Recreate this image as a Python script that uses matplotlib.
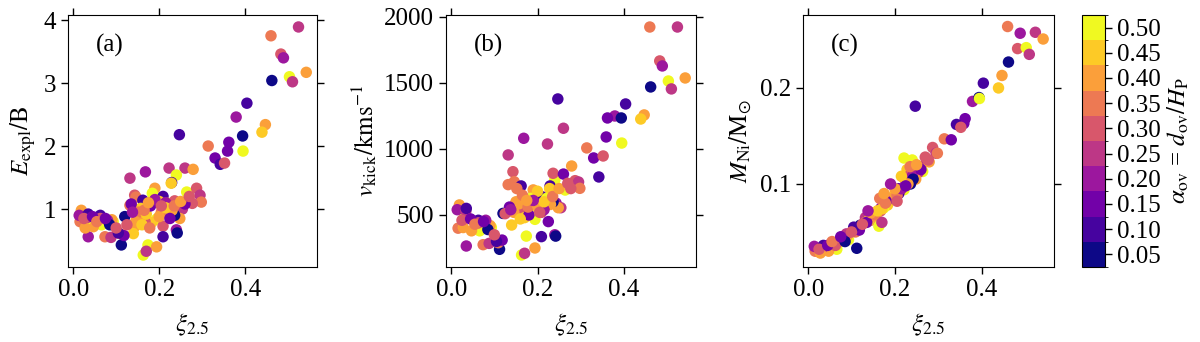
import numpy as np
import matplotlib
matplotlib.use("Agg")
import matplotlib.pyplot as plt
from matplotlib.colors import ListedColormap, BoundaryNorm

plt.rcParams['font.family'] = ['Liberation Serif', 'DejaVu Serif']
plt.rcParams['mathtext.fontset'] = 'stix'
plt.rcParams['font.size'] = 18

# compactness, overshoot and explosion outcomes
xi = [0.524, 0.460, 0.483, 0.489, 0.542, 0.503, 0.510, 0.462, 0.404, 0.379,
      0.447, 0.439, 0.394, 0.395, 0.247, 0.314, 0.362, 0.359, 0.330, 0.342,
      0.352, 0.168, 0.132, 0.223, 0.260, 0.279, 0.240, 0.229, 0.228, 0.190,
      0.184, 0.264, 0.287, 0.295, 0.298, 0.277, 0.143, 0.146, 0.132, 0.162,
      0.157, 0.209, 0.200, 0.221, 0.221, 0.236, 0.243, 0.254, 0.248, 0.236,
      0.194, 0.209, 0.240, 0.209, 0.242, 0.183, 0.167, 0.143, 0.140, 0.157,
      0.150, 0.174, 0.194, 0.163, 0.170, 0.112, 0.109, 0.120, 0.093, 0.090,
      0.074, 0.088, 0.035, 0.066, 0.047, 0.031, 0.019, 0.016, 0.014, 0.063,
      0.080, 0.034, 0.063, 0.035, 0.085, 0.028, 0.152, 0.170, 0.205, 0.230,
      0.215, 0.180, 0.135, 0.260, 0.118, 0.105, 0.145, 0.160, 0.178, 0.200,
      0.215, 0.235, 0.250, 0.270, 0.125, 0.138, 0.190, 0.025, 0.045, 0.055,
      0.075, 0.100, 0.165, 0.205, 0.175, 0.225]
alpha_ov = [0.25, 0.35, 0.30, 0.20, 0.40, 0.50, 0.25, 0.05, 0.10, 0.20,
            0.40, 0.45, 0.05, 0.50, 0.10, 0.35, 0.15, 0.15, 0.15, 0.10,
            0.30, 0.20, 0.25, 0.25, 0.25, 0.40, 0.50, 0.10, 0.45, 0.40,
            0.50, 0.50, 0.30, 0.25, 0.35, 0.30, 0.30, 0.35, 0.35, 0.10,
            0.45, 0.10, 0.45, 0.50, 0.50, 0.30, 0.20, 0.25, 0.40, 0.05,
            0.50, 0.30, 0.20, 0.10, 0.05, 0.45, 0.30, 0.40, 0.45, 0.40,
            0.40, 0.50, 0.40, 0.50, 0.25, 0.05, 0.35, 0.05, 0.50, 0.40,
            0.35, 0.25, 0.20, 0.50, 0.40, 0.50, 0.40, 0.35, 0.20, 0.10,
            0.20, 0.25, 0.30, 0.10, 0.05, 0.40, 0.35, 0.45, 0.35, 0.40,
            0.20, 0.15, 0.15, 0.15, 0.15, 0.10, 0.40, 0.45, 0.35, 0.40,
            0.45, 0.35, 0.40, 0.30, 0.30, 0.20, 0.20, 0.30, 0.15, 0.35,
            0.15, 0.30, 0.35, 0.30, 0.40, 0.15]
e_expl = [3.89, 3.75, 3.46, 3.40, 3.17, 3.10, 3.02, 3.04, 2.68, 2.46,
          2.34, 2.22, 2.16, 1.92, 2.18, 2.00, 2.06, 1.92, 1.81, 1.71,
          1.73, 1.59, 1.49, 1.65, 1.65, 1.63, 1.54, 1.42, 1.41, 1.33,
          1.25, 1.27, 1.33, 1.22, 1.11, 1.09, 1.22, 1.19, 1.06, 1.14,
          1.01, 1.20, 1.12, 1.09, 0.96, 1.13, 1.05, 1.00, 0.85, 0.90,
          0.84, 0.73, 0.67, 0.56, 0.62, 0.79, 0.80, 0.72, 0.61, 0.86,
          0.88, 0.43, 0.40, 0.27, 0.33, 0.43, 0.61, 0.88, 0.80, 0.83,
          0.56, 0.55, 0.56, 0.75, 0.72, 0.84, 0.98, 0.80, 0.90, 0.90,
          0.82, 0.87, 0.85, 0.92, 0.75, 0.70, 0.95, 0.92, 0.95, 0.98,
          1.10, 1.05, 1.08, 1.08, 0.58, 0.62, 0.80, 0.75, 0.70, 0.88,
          1.02, 1.05, 1.12, 1.20, 0.75, 0.95, 1.15, 0.85, 0.88, 0.80,
          0.85, 0.70, 0.98, 1.05, 1.10, 0.85]
v_kick = [1924, 1924, 1667, 1629, 1538, 1515, 1455, 1470, 1341, 1250,
          1258, 1227, 1235, 1045, 1379, 1008, 1235, 1091, 932, 788,
          947, 1081, 955, 1038, 1157, 871, 765, 720, 700, 690,
          626, 689, 760, 750, 702, 700, 828, 752, 730, 720,
          600, 640, 680, 626, 620, 816, 590, 555, 555, 600,
          467, 520, 350, 336, 340, 560, 540, 540, 424, 585,
          600, 340, 250, 197, 210, 240, 290, 512, 407, 420,
          275, 285, 265, 380, 380, 500, 576, 400, 540, 460,
          460, 530, 440, 550, 390, 405, 700, 480, 540, 580,
          540, 500, 560, 810, 310, 300, 520, 470, 560, 570,
          600, 640, 700, 740, 510, 540, 610, 460, 470, 430,
          450, 350, 650, 520, 610, 450]
m_ni = [0.258, 0.264, 0.241, 0.257, 0.251, 0.242, 0.235, 0.227, 0.205, 0.186,
        0.213, 0.200, 0.190, 0.189, 0.181, 0.147, 0.168, 0.163, 0.146, 0.162,
        0.159, 0.075, 0.065, 0.105, 0.118, 0.123, 0.125, 0.100, 0.115, 0.085,
        0.080, 0.113, 0.138, 0.132, 0.132, 0.125, 0.062, 0.068, 0.060, 0.072,
        0.070, 0.095, 0.090, 0.094, 0.127, 0.110, 0.108, 0.112, 0.105, 0.100,
        0.085, 0.092, 0.108, 0.090, 0.105, 0.078, 0.072, 0.065, 0.062, 0.068,
        0.066, 0.075, 0.085, 0.056, 0.060, 0.033, 0.050, 0.057, 0.042, 0.046,
        0.040, 0.048, 0.035, 0.032, 0.030, 0.033, 0.030, 0.030, 0.035, 0.038,
        0.042, 0.034, 0.036, 0.036, 0.040, 0.028, 0.068, 0.074, 0.088, 0.100,
        0.095, 0.082, 0.060, 0.115, 0.052, 0.055, 0.070, 0.072, 0.080, 0.095,
        0.108, 0.118, 0.120, 0.128, 0.058, 0.072, 0.100, 0.032, 0.036, 0.040,
        0.045, 0.050, 0.085, 0.082, 0.090, 0.098]

cbar_ticks = [0.05, 0.10, 0.15, 0.20, 0.25, 0.30, 0.35, 0.40, 0.45, 0.50]

cmap = ListedColormap(plt.get_cmap('plasma')(np.linspace(0, 1, 10)))
norm = BoundaryNorm(np.linspace(0.025, 0.525, 11), cmap.N)

fig = plt.figure(figsize=(12, 3.42), dpi=100)
W, H = 1200, 342
def px_axes(l, r, t, b):
    return fig.add_axes([l / W, (H - b) / H, (r - l) / W, (b - t) / H])

ax1 = px_axes(68, 317, 15, 267)
ax2 = px_axes(446, 696, 15, 267)
ax3 = px_axes(803, 1054, 15, 267)
cax = px_axes(1082, 1105, 15, 267)

panels = [
    (ax1, e_expl, r'$E_{\rm expl}/{\rm B}$', (0.08, 4.08), [1, 2, 3, 4], '(a)'),
    (ax2, v_kick, r'$v_{\rm kick}/{\rm km s^{-1}}$', (106, 2015), [500, 1000, 1500, 2000], '(b)'),
    (ax3, m_ni, r'$M_{\rm Ni}/{\rm M_{\odot}}$', (0.0135, 0.276), [0.1, 0.2], '(c)'),
]

for ax, yv, ylab, ylim, yt, tag in panels:
    sc = ax.scatter(xi, yv, c=alpha_ov, cmap=cmap, norm=norm, s=68, linewidths=0)
    ax.set_xlim(-0.012, 0.567)
    ax.set_ylim(*ylim)
    ax.set_xticks([0.0, 0.2, 0.4])
    ax.set_xticklabels(['0.0', '0.2', '0.4'])
    ax.set_yticks(yt)
    ax.set_xlabel(r'$\xi_{2.5}$', labelpad=8)
    ax.set_ylabel(ylab)
    ax.tick_params(direction='out', length=5, width=1, top=True, right=True)
    ax.text(0.11, 0.88, tag, transform=ax.transAxes, va='center', ha='left')

cb = fig.colorbar(sc, cax=cax, ticks=cbar_ticks)
cb.ax.set_yticklabels(['%.2f' % t for t in cbar_ticks])
cb.ax.tick_params(direction='out', length=5, width=1)
cb.set_label(r'$\alpha_{\rm ov}$ = $d_{\rm ov}/H_{\rm P}$')

fig.savefig('out.png', dpi=100)
